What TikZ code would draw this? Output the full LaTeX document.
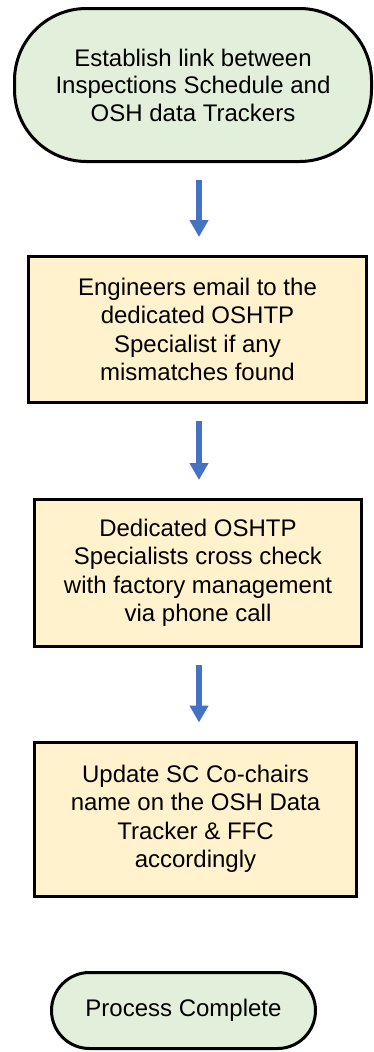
\documentclass[tikz,border=0pt]{standalone}
\usepackage{fontspec}
\setmainfont{Liberation Sans}
\usetikzlibrary{
    arrows.meta
}
\definecolor{termgreen}{HTML}{E2EFDA}
\definecolor{stepyellow}{HTML}{FFF2CC}
\definecolor{flowblue}{HTML}{4472C4}
\tikzset{
    terminal/.style={draw=black, fill=termgreen, line width=3pt, align=center,
        inner sep=0pt, font=\fontsize{24}{27.5}\selectfont},
    stepbox/.style={draw=black, fill=stepyellow, line width=3pt, align=center,
        inner sep=0pt, font=\fontsize{24}{28.5}\selectfont},
    flow/.style={draw=flowblue, line width=6pt, -{Triangle[width=18pt, length=17pt]},
        shorten <=17pt, shorten >=18pt}
}

\begin{document}
\begin{tikzpicture}[x=1pt, y=-1pt]
    \useasboundingbox (0,0) rectangle (374,1052);
    \coordinate (axis) at (199,0);

    \node[terminal, rounded corners=72pt, minimum width=357pt, minimum height=153pt]
        (link) at (193,85) {Establish link between\\Inspections Schedule and\\OSH data Trackers};
    \node[stepbox, minimum width=338pt, minimum height=146pt]
        (email) at (197.5,329.5) {Engineers email to the\\dedicated OSHTP\\Specialist if any\\mismatches found};
    \node[stepbox, minimum width=327pt, minimum height=147pt]
        (check) at (198,573) {Dedicated OSHTP\\Specialists cross check\\with factory management\\via phone call};
    \node[stepbox, minimum width=322pt, minimum height=154pt]
        (update) at (195.5,819) {Update SC Co-chairs\\name on the OSH Data\\Tracker \& FFC\\accordingly};
    \node[terminal, rounded corners=38pt, minimum width=264pt, minimum height=76pt]
        (done) at (183.5,1010.5) {Process Complete};

    \draw[flow] (link.south -| axis) -- (email.north -| axis);
    \draw[flow] (email.south -| axis) -- (check.north -| axis);
    \draw[flow] (check.south -| axis) -- (update.north -| axis);
\end{tikzpicture}
\end{document}
